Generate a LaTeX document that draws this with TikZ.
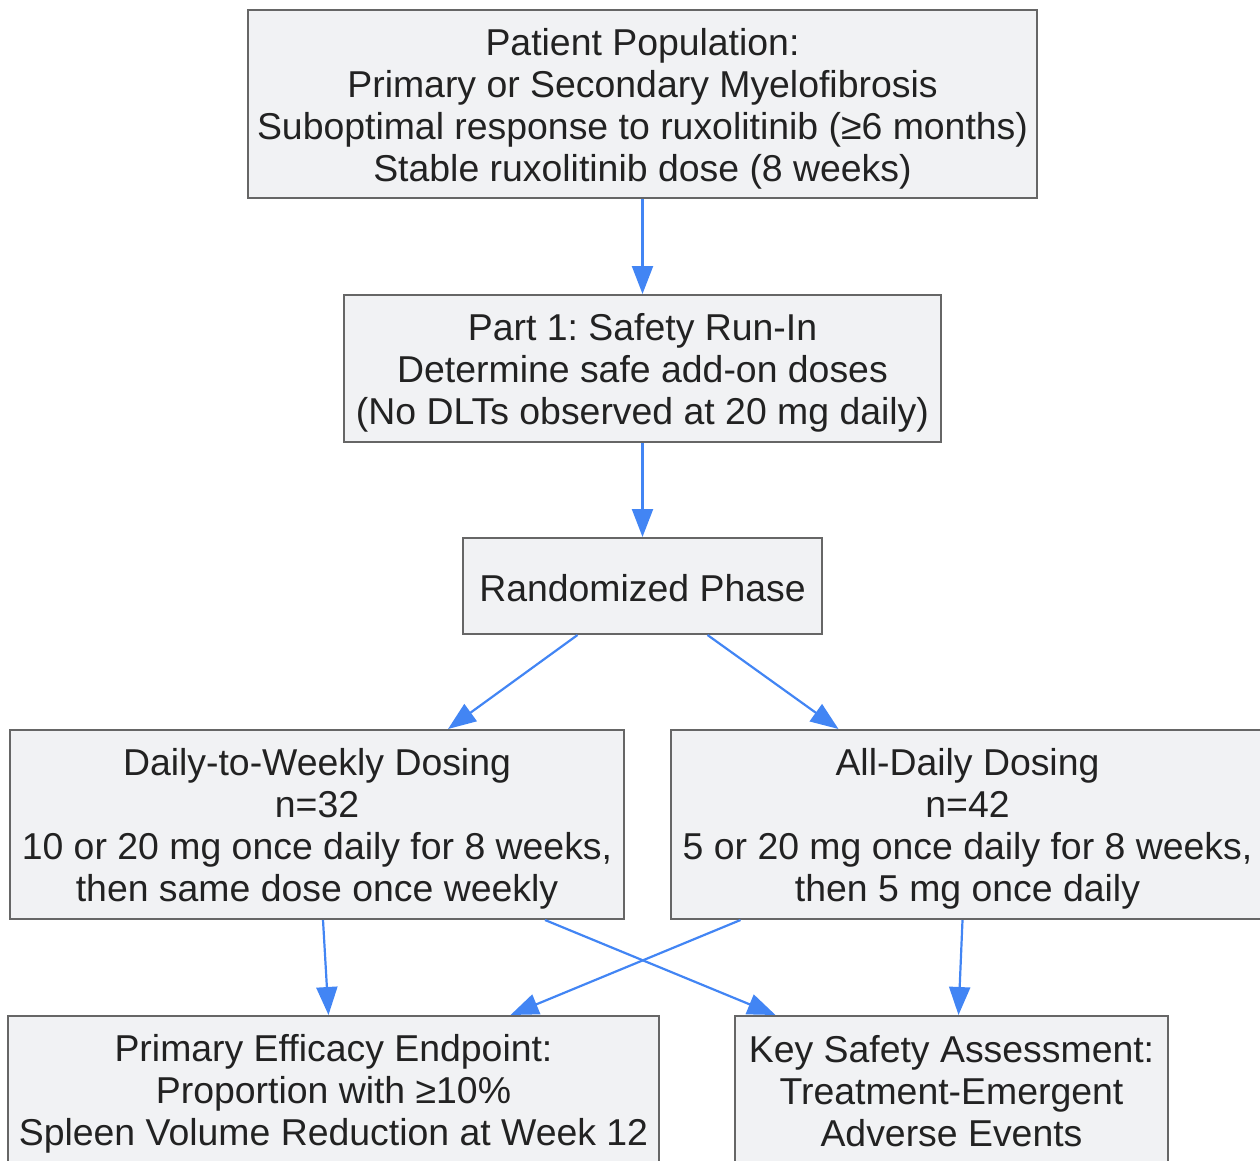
\documentclass[tikz,border=0pt]{standalone}
\usepackage{fontspec}
\setmainfont{Liberation Sans}
\usetikzlibrary{arrows.meta}
\definecolor{boxfill}{HTML}{F1F2F4}
\definecolor{boxline}{HTML}{666666}
\definecolor{arrowc}{HTML}{4285F4}
\definecolor{txt}{HTML}{222222}
\newcommand{\topstrut}{\rule{0pt}{36pt}}
\newcommand{\botstrut}{\rule[-6pt]{0pt}{6pt}}
\begin{document}
\frenchspacing
\begin{tikzpicture}[x=1pt,y=-1pt,
  box/.style={draw=boxline, fill=boxfill, line width=2pt, align=center, inner sep=0pt, text=txt,
    font=\fontsize{37.4}{42}\selectfont},
  flow/.style={draw=arrowc, line width=2.2pt, -{Triangle[length=28pt,width=21pt]}}]
\useasboundingbox (0,0) rectangle (1260,1161);
\node[box, minimum width=789pt, minimum height=188pt] (pop) at (642.5,104)
  {\topstrut Patient Population:\\Primary or Secondary Myelofibrosis\\Suboptimal response to ruxolitinib (≥6 months)\\Stable ruxolitinib dose (8 weeks)\botstrut};
\node[box, minimum width=597pt, minimum height=147pt] (run) at (642.5,368.5)
  {\topstrut Part 1: Safety Run-In\\Determine safe add-on doses\\(No DLTs observed at 20 mg daily)\botstrut};
\node[box, minimum width=359pt, minimum height=96pt] (rand) at (642.5,586)
  {\topstrut Randomized Phase\botstrut};
\node[box, minimum width=614pt, minimum height=189pt] (dtw) at (317,824.5)
  {\topstrut Daily-to-Weekly Dosing\\n=32\\10 or 20 mg once daily for 8 weeks,\\then same dose once weekly\botstrut};
\node[box, minimum width=593pt, minimum height=189pt] (ad) at (967.5,824.5)
  {\topstrut All-Daily Dosing\\n=42\\5 or 20 mg once daily for 8 weeks,\\then 5 mg once daily\botstrut};
\node[box, minimum width=651pt, minimum height=147pt] (eff) at (333.5,1089.5)
  {\topstrut Primary Efficacy Endpoint:\\Proportion with ≥10\%\\Spleen Volume Reduction at Week 12\botstrut};
\node[box, minimum width=433pt, minimum height=147pt] (saf) at (951.5,1089.5)
  {\topstrut Key Safety Assessment:\\Treatment-Emergent\\Adverse Events\botstrut};
\draw[flow] (pop.south) -- (run.north);
\draw[flow] (run.south) -- (rand.north);
\draw[flow] ([xshift=-65pt]rand.south) -- ([xshift=131pt]dtw.north);
\draw[flow] ([xshift=65pt]rand.south) -- ([xshift=-129pt]ad.north);
\draw[flow] ([xshift=6pt]dtw.south) -- ([xshift=-5pt]eff.north);
\draw[flow] ([xshift=228pt]dtw.south) -- ([xshift=-176pt]saf.north);
\draw[flow] ([xshift=-227pt]ad.south) -- ([xshift=177pt]eff.north);
\draw[flow] ([xshift=-5pt]ad.south) -- ([xshift=7pt]saf.north);
\end{tikzpicture}
\end{document}
